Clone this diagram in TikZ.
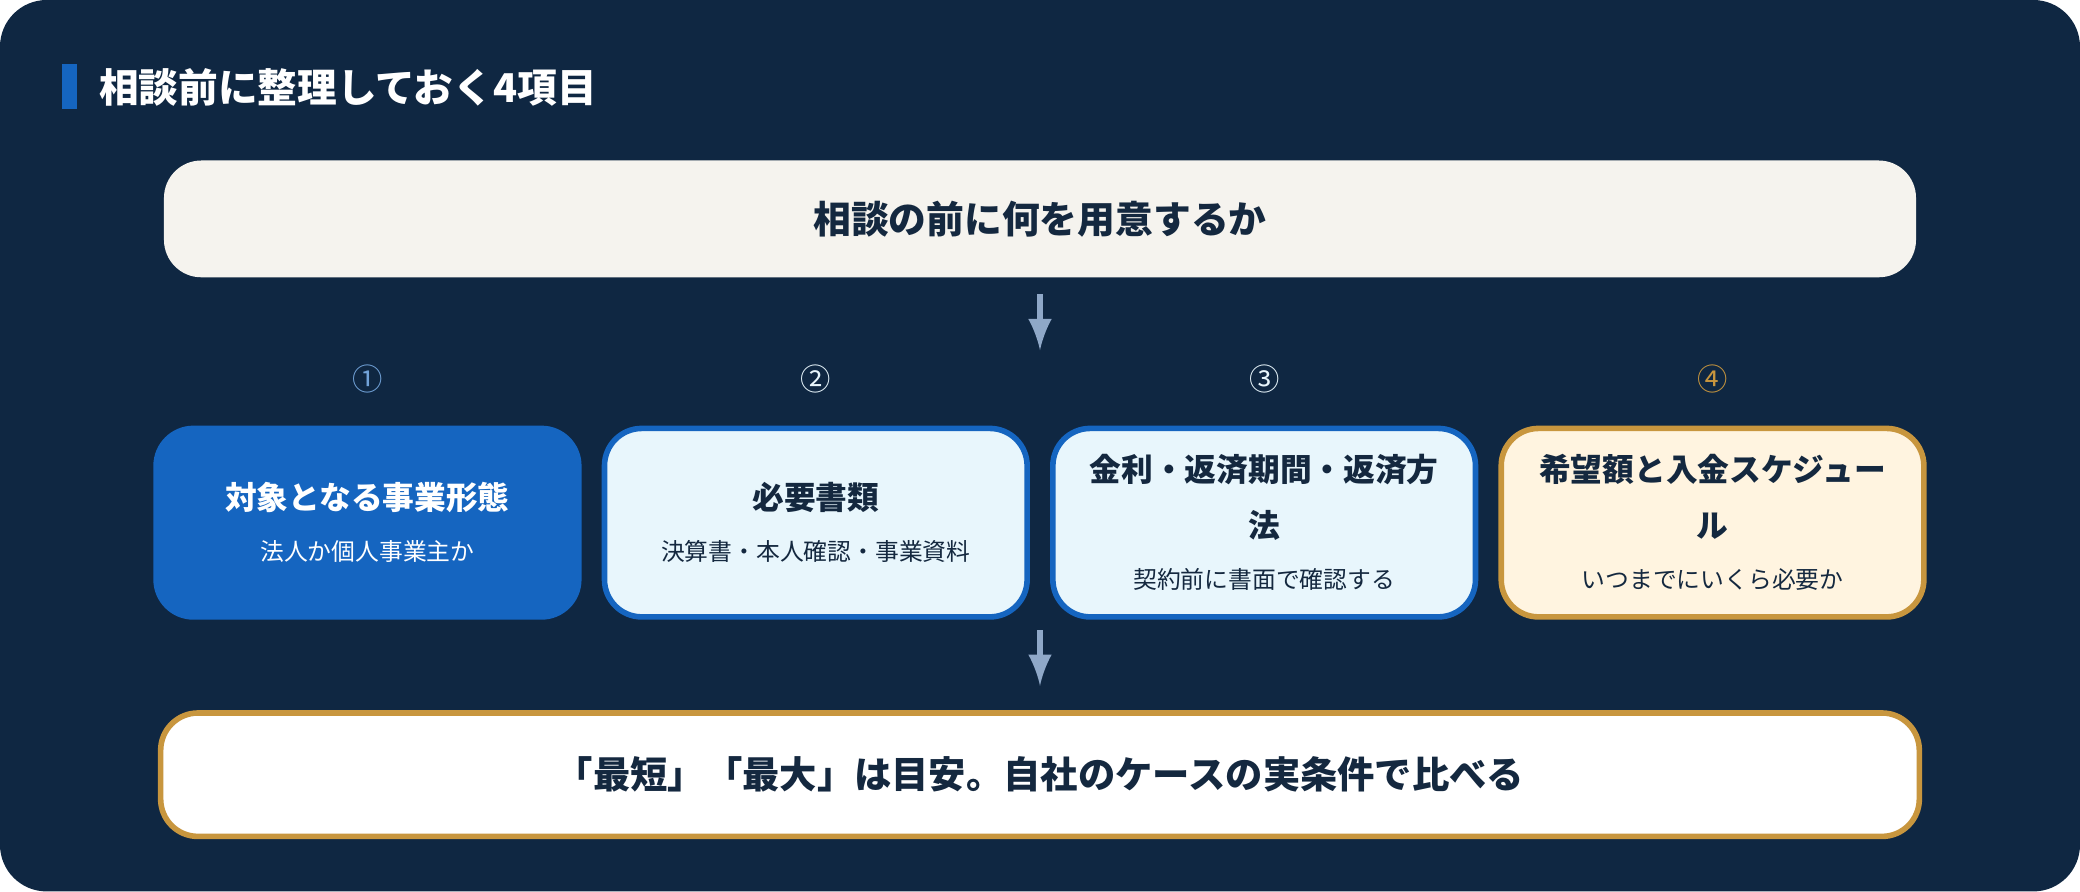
\documentclass[tikz,border=0pt]{standalone}
\usepackage{fontspec}
\setmainfont{Noto Sans CJK JP}
\usepackage{xcolor}
\usetikzlibrary{positioning}
\definecolor{navy}{HTML}{0F2742}
\definecolor{ink}{HTML}{14283F}
\definecolor{accent}{HTML}{1565C0}
\definecolor{paleblue}{HTML}{E8F6FC}
\definecolor{cream}{HTML}{FFF4E0}
\definecolor{gold}{HTML}{C8963E}
\definecolor{arrowc}{HTML}{8FA8C8}
\definecolor{topfill}{HTML}{F5F3EE}
\tikzset{
  card/.style={rounded corners=8pt, line width=1.2pt, minimum width=3.1cm, minimum height=1.42cm, align=center, text width=2.95cm},
  head/.style={font=\fontsize{6.8}{8.6}\selectfont\bfseries},
  flow/.style={-latex, arrowc, line width=1.3pt}
}
\newcommand{\cardtext}[2]{{\fontsize{6.8}{8.6}\selectfont\bfseries #1}\\[-1pt]{\fontsize{5.1}{6.5}\selectfont #2}}
\begin{document}
\begin{tikzpicture}[x=0.01cm,y=-0.01cm]
    % background
    \fill[navy, rounded corners=10pt] (0,0) rectangle (1568,672);
    \useasboundingbox (0,0) rectangle (1568,672);

    % title
    \fill[accent] (47,48) rectangle (58,82);
    \node[anchor=west, white, inner sep=0pt, font=\fontsize{8.5}{10}\selectfont\bfseries] (title) at (74,66) {相談前に整理しておく4項目};

    % question box
    \node[fill=topfill, rounded corners=8pt, minimum width=13.2cm, minimum height=0.88cm, text=ink, font=\fontsize{8.1}{10}\selectfont\bfseries] (ask) at (784,165) {相談の前に何を用意するか};

    % four items
    \node[card, fill=accent, draw=accent, text=white] (kind) at (277,394) {\cardtext{対象となる事業形態}{法人か個人事業主か}};
    \node[card, fill=paleblue, draw=accent, text=ink] (docs) at (615,394) {\cardtext{必要書類}{決算書・本人確認・事業資料}};
    \node[card, fill=paleblue, draw=accent, text=ink] (rate) at (953,394) {\cardtext{金利・返済期間・返済方\\法}{契約前に書面で確認する}};
    \node[card, fill=cream, draw=gold, text=ink] (wish) at (1291,394) {\cardtext{希望額と入金スケジュー\\ル}{いつまでにいくら必要か}};

    % numbers
    \node[above=0.12cm of kind, text=accent!60!white, font=\fontsize{6.5}{8}\selectfont] (n1) {①};
    \node[above=0.12cm of docs, text=paleblue, font=\fontsize{6.5}{8}\selectfont] (n2) {②};
    \node[above=0.12cm of rate, text=paleblue, font=\fontsize{6.5}{8}\selectfont] (n3) {③};
    \node[above=0.12cm of wish, text=gold, font=\fontsize{6.5}{8}\selectfont] (n4) {④};

    % conclusion
    \node[fill=white, draw=gold, line width=1.2pt, rounded corners=8pt, minimum width=13.25cm, minimum height=0.93cm, text=ink, font=\fontsize{8}{10}\selectfont\bfseries] (rule) at (784,584) {「最短」「最大」は目安。自社のケースの実条件で比べる};

    % arrows
    \coordinate (a1) at (784,222);
    \coordinate (a2) at (784,264);
    \draw[flow] (a1) -- (a2);
    \coordinate (b1) at (784,475);
    \coordinate (b2) at (784,517);
    \draw[flow] (b1) -- (b2);
\end{tikzpicture}
\end{document}
